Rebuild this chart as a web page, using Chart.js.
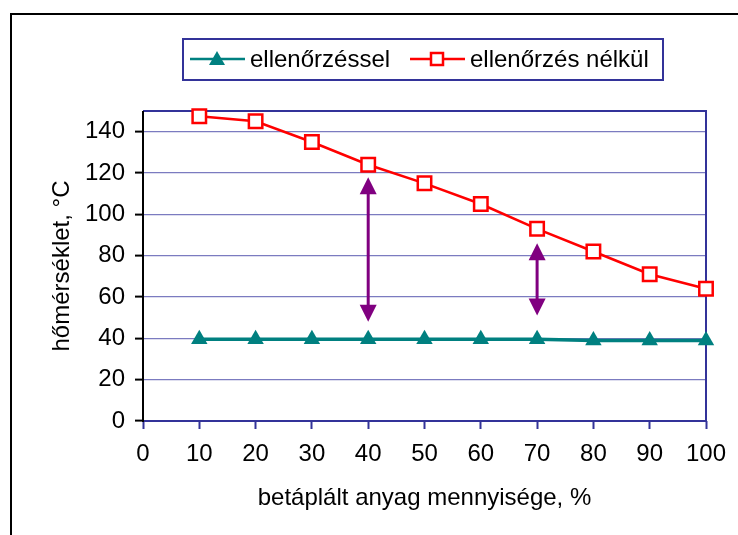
<!DOCTYPE html>
<html>
<head>
<meta charset="utf-8">
<script src="https://cdn.jsdelivr.net/npm/chart.js@4.4.1/dist/chart.umd.min.js"></script>
<style>
  html, body { margin: 0; padding: 0; background: #fff; }
  canvas { display: block; }
</style>
</head>
<body>
<canvas id="canvas" width="738" height="535"></canvas>
<script>
// data
var xValues = [10, 20, 30, 40, 50, 60, 70, 80, 90, 100];
var withControl = [39.5, 39.5, 39.5, 39.5, 39.5, 39.5, 39.5, 39, 39, 39];
var withoutControl = [147.5, 145, 135, 124, 115, 105, 93, 82, 71, 64];
var yTicks = [0, 20, 40, 60, 80, 100, 120, 140];

// double arrows between the two curves
var arrowX = [40, 70];
var arrowTop = [118, 86];
var arrowBottom = [48, 51];

var seriesNames = ['ellenőrzéssel', 'ellenőrzés nélkül'];
var font = 'Liberation Sans, Arial, sans-serif';
var navy = '#333399';

function points(ys) {
  return xValues.map(function (x, i) { return { x: x, y: ys[i] }; });
}

// white background + the frame (top and left side only)
var framePlugin = {
  id: 'frame',
  beforeDraw: function (chart) {
    var ctx = chart.ctx;
    ctx.save();
    ctx.fillStyle = '#fff';
    ctx.fillRect(0, 0, chart.width, chart.height);
    ctx.strokeStyle = '#000';
    ctx.lineWidth = 2;
    ctx.beginPath();
    ctx.moveTo(11, chart.height);
    ctx.lineTo(11, 14);
    ctx.lineTo(chart.width, 14);
    ctx.stroke();
    ctx.restore();
  },
  beforeDatasetsDraw: function (chart) {
    var ctx = chart.ctx, a = chart.chartArea;
    ctx.save();
    ctx.strokeStyle = navy;
    ctx.lineWidth = 2;
    ctx.beginPath();
    ctx.moveTo(a.left, a.top);
    ctx.lineTo(a.right, a.top);
    ctx.lineTo(a.right, a.bottom);
    ctx.lineTo(a.left, a.bottom);
    ctx.stroke();
    ctx.strokeStyle = '#000';
    ctx.beginPath();
    ctx.moveTo(a.left, a.top);
    ctx.lineTo(a.left, a.bottom + 1);
    ctx.stroke();
    ctx.restore();
  }
};

function arrowHead(ctx, x, y, dir) {
  ctx.beginPath();
  ctx.moveTo(x, y);
  ctx.lineTo(x - 8.5, y - dir * 17);
  ctx.lineTo(x + 8.5, y - dir * 17);
  ctx.closePath();
  ctx.fill();
}

var arrowPlugin = {
  id: 'arrows',
  afterDatasetsDraw: function (chart) {
    var ctx = chart.ctx;
    var xs = chart.scales.x, ys = chart.scales.y;
    ctx.save();
    ctx.strokeStyle = '#800080';
    ctx.fillStyle = '#800080';
    ctx.lineWidth = 3;
    arrowX.forEach(function (v, i) {
      var px = xs.getPixelForValue(v);
      var top = ys.getPixelForValue(arrowTop[i]);
      var bot = ys.getPixelForValue(arrowBottom[i]);
      ctx.beginPath();
      ctx.moveTo(px, top + 10);
      ctx.lineTo(px, bot - 10);
      ctx.stroke();
      arrowHead(ctx, px, top, -1);
      arrowHead(ctx, px, bot, 1);
    });
    ctx.restore();
  }
};

// legend box with line + marker samples
var legendPlugin = {
  id: 'boxLegend',
  afterDraw: function (chart) {
    var ctx = chart.ctx;
    ctx.save();
    ctx.strokeStyle = navy;
    ctx.lineWidth = 2;
    ctx.strokeRect(183, 39, 480, 41);
    ctx.font = '24px ' + font;
    ctx.fillStyle = '#000';
    ctx.textBaseline = 'middle';
    // teal sample
    ctx.strokeStyle = '#008080';
    ctx.lineWidth = 2.5;
    ctx.beginPath();
    ctx.moveTo(190, 59); ctx.lineTo(245, 59); ctx.stroke();
    ctx.fillStyle = '#008080';
    ctx.beginPath();
    ctx.moveTo(217, 51); ctx.lineTo(225, 65); ctx.lineTo(209, 65); ctx.closePath(); ctx.fill();
    ctx.fillStyle = '#000';
    ctx.fillText(seriesNames[0], 250, 60);
    // red sample
    ctx.strokeStyle = '#ff0000';
    ctx.beginPath();
    ctx.moveTo(410, 59); ctx.lineTo(465, 59); ctx.stroke();
    ctx.fillStyle = '#fff';
    ctx.lineWidth = 2.5;
    ctx.fillRect(431, 53, 12, 12);
    ctx.strokeRect(431, 53, 12, 12);
    ctx.fillStyle = '#000';
    ctx.fillText(seriesNames[1], 470, 60);
    ctx.restore();
  }
};

var ctx = document.getElementById('canvas').getContext('2d');
var chart = new Chart(ctx, {
  type: 'line',
  data: {
    datasets: [{
      label: seriesNames[0],
      data: points(withControl),
      borderColor: '#008080',
      backgroundColor: '#008080',
      borderWidth: 3.5,
      pointStyle: 'triangle',
      pointRadius: 9.5,
      pointBorderWidth: 0,
      pointBackgroundColor: '#008080',
      tension: 0,
      clip: false
    }, {
      label: seriesNames[1],
      data: points(withoutControl),
      borderColor: '#ff0000',
      backgroundColor: '#ffffff',
      borderWidth: 2.5,
      pointStyle: 'rect',
      pointRadius: 9.5,
      pointBorderWidth: 2.5,
      pointBackgroundColor: '#ffffff',
      tension: 0,
      clip: false
    }]
  },
  options: {
    responsive: false,
    animation: false,
    events: [],
    layout: { padding: { top: 111, right: 32, left: 0, bottom: 0 } },
    plugins: { legend: { display: false }, tooltip: { enabled: false } },
    scales: {
      x: {
        type: 'linear',
        min: 0,
        max: 100,
        ticks: { stepSize: 10, color: '#000', font: { family: font, size: 24 }, padding: 11, maxRotation: 0 },
        grid: { drawOnChartArea: false, color: navy, tickLength: 8, tickWidth: 2 },
        border: { display: false },
        title: { display: true, text: 'betáplált anyag mennyisége, %', color: '#000',
                 font: { family: font, size: 24 }, padding: { bottom: 22 } },
        afterFit: function (s) { s.height = 114; }
      },
      y: {
        min: 0,
        max: 150,
        afterBuildTicks: function (s) { s.ticks = yTicks.map(function (v) { return { value: v }; }); },
        ticks: { color: '#000', font: { family: font, size: 24 }, padding: 10 },
        grid: { color: function (c) { return c.tick && c.tick.value === 0 ? 'rgba(0,0,0,0)' : '#7b7bc0'; },
                lineWidth: 1.2, tickColor: '#000', tickLength: 8, tickWidth: 2 },
        border: { display: false },
        title: { display: true, text: 'hőmérséklet, °C', color: '#000',
                 font: { family: font, size: 24 }, padding: { top: 48 } },
        afterFit: function (s) { s.width = 143; }
      }
    }
  },
  plugins: [framePlugin, arrowPlugin, legendPlugin]
});
</script>
</body>
</html>
